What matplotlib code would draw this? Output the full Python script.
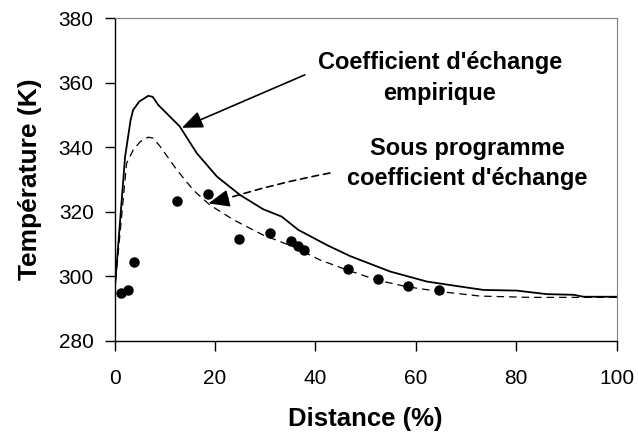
import matplotlib
matplotlib.use("Agg")
import matplotlib.pyplot as plt

plt.rcParams["font.family"] = ["Liberation Sans", "DejaVu Sans"]

# Courbe "Coefficient d'échange empirique" (trait plein)
emp_x = [0, 2.1, 3.2, 3.7, 4.9, 6.7, 7.6, 8.7, 13.0, 16.4, 20.4, 25.0, 29.6,
         33.3, 36.6, 42.3, 46.9, 54.9, 62.2, 68.2, 73.5, 80.1, 86.1, 91.4,
         93.4, 100]
emp_y = [295, 337, 348.4, 351.5, 354.1, 355.9, 355.6, 353.1, 346.4, 338.1,
         330.9, 325.2, 320.8, 318.5, 314.4, 309.7, 306.3, 301.5, 298.4, 297.0,
         295.8, 295.6, 294.5, 294.3, 293.7, 293.7]

# Courbe "Sous programme coefficient d'échange" (tirets)
sp_x = [0, 2.4, 3.7, 5.1, 6.7, 7.7, 9.1, 12.4, 15.7, 19.0, 23.7, 29.6, 35.6,
        40.9, 46.3, 52.2, 58.2, 64.8, 72.8, 82.8, 100]
sp_y = [295, 335, 339.1, 341.7, 343.1, 342.8, 340.2, 333.0, 326.7, 322.1,
        317.5, 312.8, 309.2, 305.1, 302.0, 298.9, 296.8, 295.3, 293.9, 293.5,
        293.5]

# Mesures
mes_x = [1.35, 2.7, 3.95, 12.5, 18.6, 24.7, 31.0, 35.2, 36.6, 37.7, 46.4,
         52.4, 58.5, 64.6]
mes_y = [294.8, 295.8, 304.6, 323.3, 325.4, 311.6, 313.5, 311.1, 309.4,
         308.2, 302.2, 299.1, 297.1, 295.7]

fig = plt.figure(figsize=(6.38, 4.38), dpi=100)
ax = fig.add_axes([0.1795, 0.2215, 0.7871, 0.7374])

ax.plot(emp_x, emp_y, color="black", lw=1.3)
ax.plot(sp_x, sp_y, color="black", lw=0.9, dashes=(6, 4))
ax.plot(mes_x, mes_y, "o", color="black", ms=6.5, ls="none")

ax.set_xlim(0, 100)
ax.set_ylim(280, 380)
ax.set_xticks([0, 20, 40, 60, 80, 100])
ax.set_yticks([280, 300, 320, 340, 360, 380])
ax.tick_params(axis="x", direction="out", length=7, width=1, pad=13,
               labelsize=15)
ax.tick_params(axis="y", direction="out", length=7, width=1, pad=8,
               labelsize=15)
ax.spines["top"].set_color("#808080")
ax.spines["right"].set_color("#808080")
ax.spines["left"].set_linewidth(1)
ax.spines["bottom"].set_linewidth(1)

ax.set_xlabel("Distance (%)", fontsize=18.5, fontweight="bold", labelpad=14)
ax.set_ylabel("Température (K)", fontsize=19, fontweight="bold", labelpad=12)

# Textes
ax.text(64.8, 361.4, "Coefficient d'échange\nempirique", fontsize=17,
        fontweight="bold", ha="center", va="center", linespacing=1.4)
ax.text(70.3, 335.0, "Sous programme\ncoefficient d'échange", fontsize=17,
        fontweight="bold", ha="center", va="center", linespacing=1.4)

# Flèches
head = "-|>,head_length=0.85,head_width=0.35"
ax.annotate("", xy=(13.4, 346.0), xytext=(37.9, 362.4),
            arrowprops=dict(arrowstyle=head, mutation_scale=15,
                            color="black", lw=1.2, shrinkA=0, shrinkB=0))
# flèche en tirets : tige pointillée + pointe pleine
ax.annotate("", xy=(21.5, 323.7), xytext=(42.9, 332.0),
            arrowprops=dict(arrowstyle="-", color="black", lw=1.2,
                            linestyle=(0, (4, 3)), shrinkA=0, shrinkB=0,
                            connectionstyle="arc3,rad=0.03"))
ax.annotate("", xy=(18.7, 322.6), xytext=(22.0, 323.9),
            arrowprops=dict(arrowstyle=head, mutation_scale=15,
                            color="black", lw=1.2, shrinkA=0, shrinkB=0))

fig.savefig("out.png", dpi=100)
